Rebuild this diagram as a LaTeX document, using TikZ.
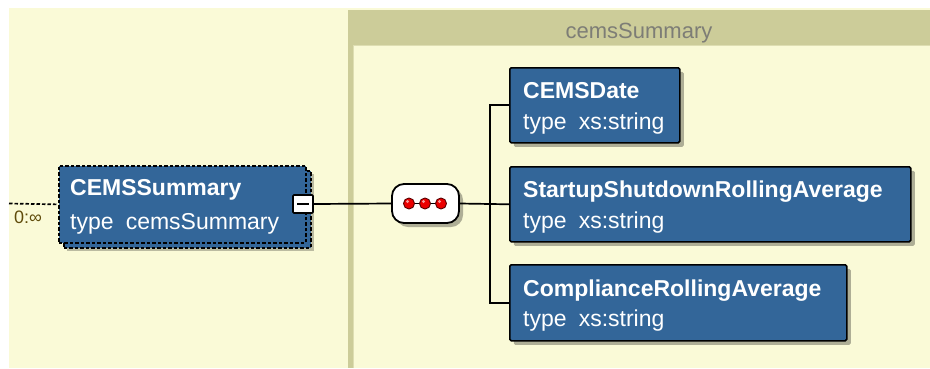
\documentclass[tikz,border=0pt]{standalone}
\usepackage{fontspec}
\setmainfont{Liberation Sans}[WordSpace=1.9]
\usetikzlibrary{shadows}
\definecolor{bgy}{RGB}{250,250,215}
\definecolor{hdrol}{RGB}{204,204,153}
\definecolor{boxblue}{RGB}{51,102,153}
\definecolor{hdrtxt}{RGB}{125,125,118}
\definecolor{occ}{RGB}{95,75,10}
\definecolor{dotred}{RGB}{235,0,0}
\begin{document}
\begin{tikzpicture}[x=1pt,y=-1pt,
  boxn/.style={draw=black, line width=1.6pt, fill=boxblue, rounded corners=1.5pt,
    drop shadow={shadow xshift=4pt,shadow yshift=-4pt,opacity=0.3,fill=black},
    anchor=north west, inner sep=0pt},
  mainbox/.style={draw=black, line width=1.8pt, dash pattern=on 3.5pt off 2pt, fill=boxblue,
    anchor=north west, inner sep=0pt, minimum width=247pt, minimum height=77pt},
  tbold/.style={anchor=base west, inner sep=0pt, text=white, font=\fontsize{23}{28}\selectfont\bfseries},
  treg/.style={anchor=base west, inner sep=0pt, text=white, font=\fontsize{23}{28}\selectfont},
  conn/.style={draw=black, line width=1.7pt},
  seqbox/.style={draw=black, line width=1.8pt, fill=white, rounded corners=12pt,
    minimum width=67pt, minimum height=39pt, inner sep=0pt,
    drop shadow={shadow xshift=4pt,shadow yshift=-4pt,opacity=0.3,fill=black}},
  dot/.style={draw=red!35!black, line width=0.9pt, fill=dotred}
]
\useasboundingbox (0,0) rectangle (930,368);
\fill[white] (0,0) rectangle (930,368);
\fill[bgy] (9,8) rectangle (930,368);
% panel of the complex type
\fill[hdrol] (348,10) rectangle (930,45);
\fill[hdrol] (348,10) rectangle (353,368);
\draw[hdrol!60!bgy, line width=1pt] (353.5,368) -- (353.5,45.5) -- (930,45.5);
\node[anchor=base, inner sep=0pt, text=hdrtxt, font=\fontsize{22}{26}\selectfont] (hdr) at (639,38) {cemsSummary};

% main element (repeated)
\fill[black, opacity=0.25] (67,174) rectangle (314,251);
\node[mainbox] (mback) at (63,170) {};
\node[mainbox] (main) at (58,165) {};
\node[tbold] (mt1) at (70,195) {CEMSSummary};
\node[treg] (mt2) at (70,229) {type cemsSummary};
\node[anchor=base west, inner sep=0pt, text=occ, font=\fontsize{18}{20}\selectfont] (occ) at (14,223) {0:∞};
\coordinate (lend) at (9,203.5);
\draw[line width=1.7pt, dash pattern=on 3.5pt off 2pt] (lend) -- (main.west);

% minus toggle
\node[draw=black, line width=1.6pt, fill=white, rounded corners=1pt, minimum width=20pt,
  minimum height=18pt, inner sep=0pt] (mn) at (303,204) {};
\draw[line width=2pt] (297,204) -- (309,204);

% sequence compositor
\node[seqbox] (seq) at (425.5,203.5) {};
\draw[line width=1.6pt] (409,203.5) -- (441,203.5);
\filldraw[dot] (409,203.5) circle (5.5pt);
\filldraw[dot] (425,203.5) circle (5.5pt);
\filldraw[dot] (441,203.5) circle (5.5pt);
\fill[white, opacity=0.6] (407.5,201.5) circle (1.6pt);
\fill[white, opacity=0.6] (423.5,201.5) circle (1.6pt);
\fill[white, opacity=0.6] (439.5,201.5) circle (1.6pt);

% children
\node[boxn, minimum width=170pt, minimum height=75pt] (c1) at (509,67) {};
\node[tbold] (c1a) at (523,98.5) {CEMSDate};
\node[treg] (c1b) at (523,129) {type xs:string};

\node[boxn, minimum width=401pt, minimum height=75pt] (c2) at (509,166) {};
\node[tbold] (c2a) at (523,197.7) {StartupShutdownRollingAverage};
\node[treg] (c2b) at (523,228) {type xs:string};

\node[boxn, minimum width=337pt, minimum height=76pt] (c3) at (509,264) {};
\node[tbold] (c3a) at (523,296.5) {ComplianceRollingAverage};
\node[treg] (c3b) at (523,326.5) {type xs:string};

% connectors
\coordinate (j) at (490,203.5);
\draw[conn] (mn.east) -- (seq.west);
\draw[conn] (seq.east) -- (c2.west);
\draw[conn] (c1.west) -| (j) |- (c3.west);
\end{tikzpicture}
\end{document}
